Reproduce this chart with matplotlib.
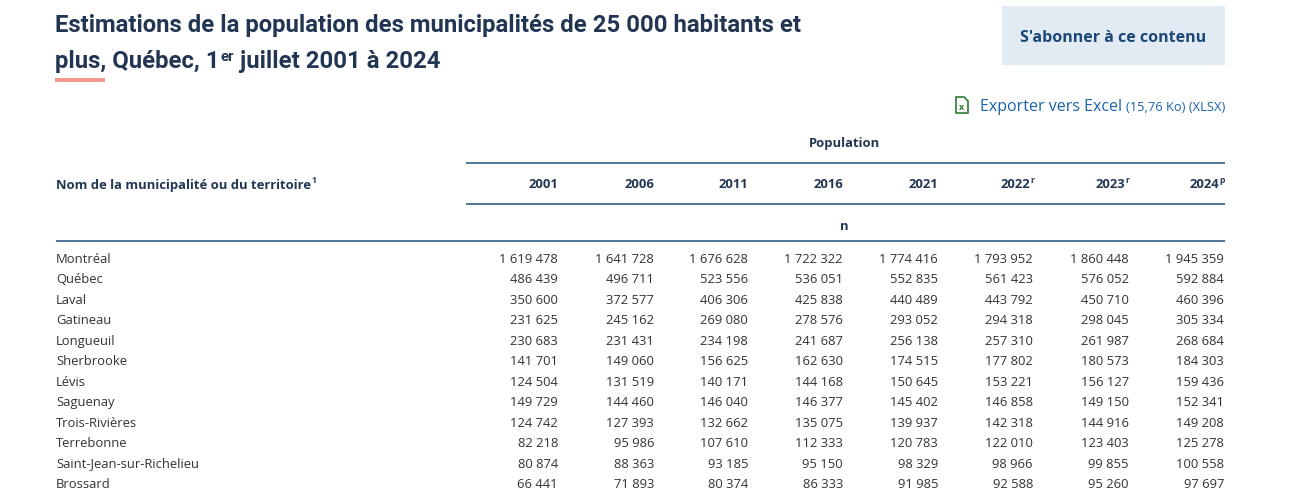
import matplotlib
matplotlib.use("Agg")
import matplotlib.pyplot as plt
from matplotlib.patches import Rectangle, Polygon

# ---- data ----
title_1 = "Estimations de la population des municipalités de 25 000 habitants et"
title_2a = "plus, Québec, 1"
title_2sup = "er"
title_2b = " juillet 2001 à 2024"

years = ["2001", "2006", "2011", "2016", "2021", "2022", "2023", "2024"]
year_marks = ["", "", "", "", "", "r", "r", "p"]

names = ["Montréal", "Québec", "Laval", "Gatineau", "Longueuil", "Sherbrooke",
         "Lévis", "Saguenay", "Trois-Rivières", "Terrebonne",
         "Saint-Jean-sur-Richelieu", "Brossard"]

pop_2001 = [1619478, 486439, 350600, 231625, 230683, 141701, 124504, 149729, 124742, 82218, 80874, 66441]
pop_2006 = [1641728, 496711, 372577, 245162, 231431, 149060, 131519, 144460, 127393, 95986, 88363, 71893]
pop_2011 = [1676628, 523556, 406306, 269080, 234198, 156625, 140171, 146040, 132662, 107610, 93185, 80374]
pop_2016 = [1722322, 536051, 425838, 278576, 241687, 162630, 144168, 146377, 135075, 112333, 95150, 86333]
pop_2021 = [1774416, 552835, 440489, 293052, 256138, 174515, 150645, 145402, 139937, 120783, 98329, 91985]
pop_2022 = [1793952, 561423, 443792, 294318, 257310, 177802, 153221, 146858, 142318, 122010, 98966, 92588]
pop_2023 = [1860448, 576052, 450710, 298045, 261987, 180573, 156127, 149150, 144916, 123403, 99855, 95260]
pop_2024 = [1945359, 592884, 460396, 305334, 268684, 184303, 159436, 152341, 149208, 125278, 100558, 97697]
columns = [pop_2001, pop_2006, pop_2011, pop_2016, pop_2021, pop_2022, pop_2023, pop_2024]

# ---- styles ----
W, H = 1292, 496
NAVY = "#223654"
LINE = "#1b4f7d"
BODY = "#333333"
LINK = "#1a62a8"
SANS = ["Open Sans", "DejaVu Sans"]
TITLE_FONT = ["Roboto", "DejaVu Sans"]
TS = 23.9  # title size in px

fig = plt.figure(figsize=(W / 100, H / 100), dpi=100)
ax = fig.add_axes([0, 0, 1, 1])
ax.set_xlim(0, W)
ax.set_ylim(H, 0)
ax.axis("off")
renderer = fig.canvas.get_renderer()


def px(v):
    return v * 0.72


def put(x, y, s, size, **kw):
    kw.setdefault("family", SANS)
    kw.setdefault("color", BODY)
    kw.setdefault("va", "baseline")
    return ax.text(x, y, s, fontsize=px(size), **kw)


def width(t):
    bb = t.get_window_extent(renderer=renderer)
    return bb.width


# title
put(55, 32, title_1, TS, family=TITLE_FONT, weight="bold", color=NAVY)
t = put(55, 68, title_2a, TS, family=TITLE_FONT, weight="bold", color=NAVY)
x = 55 + width(t)
t = put(x + 1, 61, title_2sup, 15, family=TITLE_FONT, weight="bold", color=NAVY)
x = x + 1 + width(t)
put(x, 68, title_2b, TS, family=TITLE_FONT, weight="bold", color=NAVY)
ax.add_patch(Rectangle((55, 78), 50, 4, color="#f29a8b", lw=0))

# subscribe button
ax.add_patch(Rectangle((1002, 6), 223, 59, color="#e2ebf3", lw=0))
put(1113, 41.5, "S'abonner à ce contenu", 16, weight="bold", color="#1b4877", ha="center")

# excel export
ax.add_patch(Polygon([(956, 97), (964, 97), (968, 101), (968, 113), (956, 113)],
                     closed=True, fill=False, ec="#2e7d32", lw=1.2))
put(962, 110.5, "x", 9, weight="bold", color="#2e7d32", ha="center")
t = put(1225, 111, "(15,76 Ko) (XLSX)", 12.9, color=LINK, ha="right")
put(1225 - width(t) - 4, 111, "Exporter vers Excel", 16, color=LINK, ha="right")

# header
put(844, 147.5, "Population", 13, weight="bold", color=NAVY, ha="center")
t = put(56, 188.5, "Nom de la municipalité ou du territoire", 13, weight="bold", color=NAVY)
put(56 + width(t) + 1, 183, "1", 8.5, weight="bold", color=NAVY)

col_right = [558, 654, 748, 843, 938, 1034, 1129, 1225]
for xr, yr, mk in zip(col_right, years, year_marks):
    xm = xr
    if mk:
        t = put(xr, 183, mk, 8.5, weight="bold", color=NAVY, ha="right")
        xm = xr - width(t)
    put(xm, 188.5, yr, 13, weight="bold", color=NAVY, ha="right")

put(844, 230, "n", 13, weight="bold", color=NAVY, ha="center")

ax.plot([466, 1225], [163, 163], color=LINE, lw=1.1, solid_capstyle="butt")
ax.plot([466, 1225], [204, 204], color=LINE, lw=1.1, solid_capstyle="butt")
ax.plot([56, 1225], [241, 241], color=LINE, lw=1.1, solid_capstyle="butt")

# rows
row_right = [558, 654, 748, 843, 938, 1033, 1129, 1224]
for i, name in enumerate(names):
    y = 263 + i * 20.45
    put(56, y, name, 13)
    for xr, col in zip(row_right, columns):
        put(xr, y, f"{col[i]:,}".replace(",", " "), 13, ha="right")

fig.savefig("out.png", dpi=100)
